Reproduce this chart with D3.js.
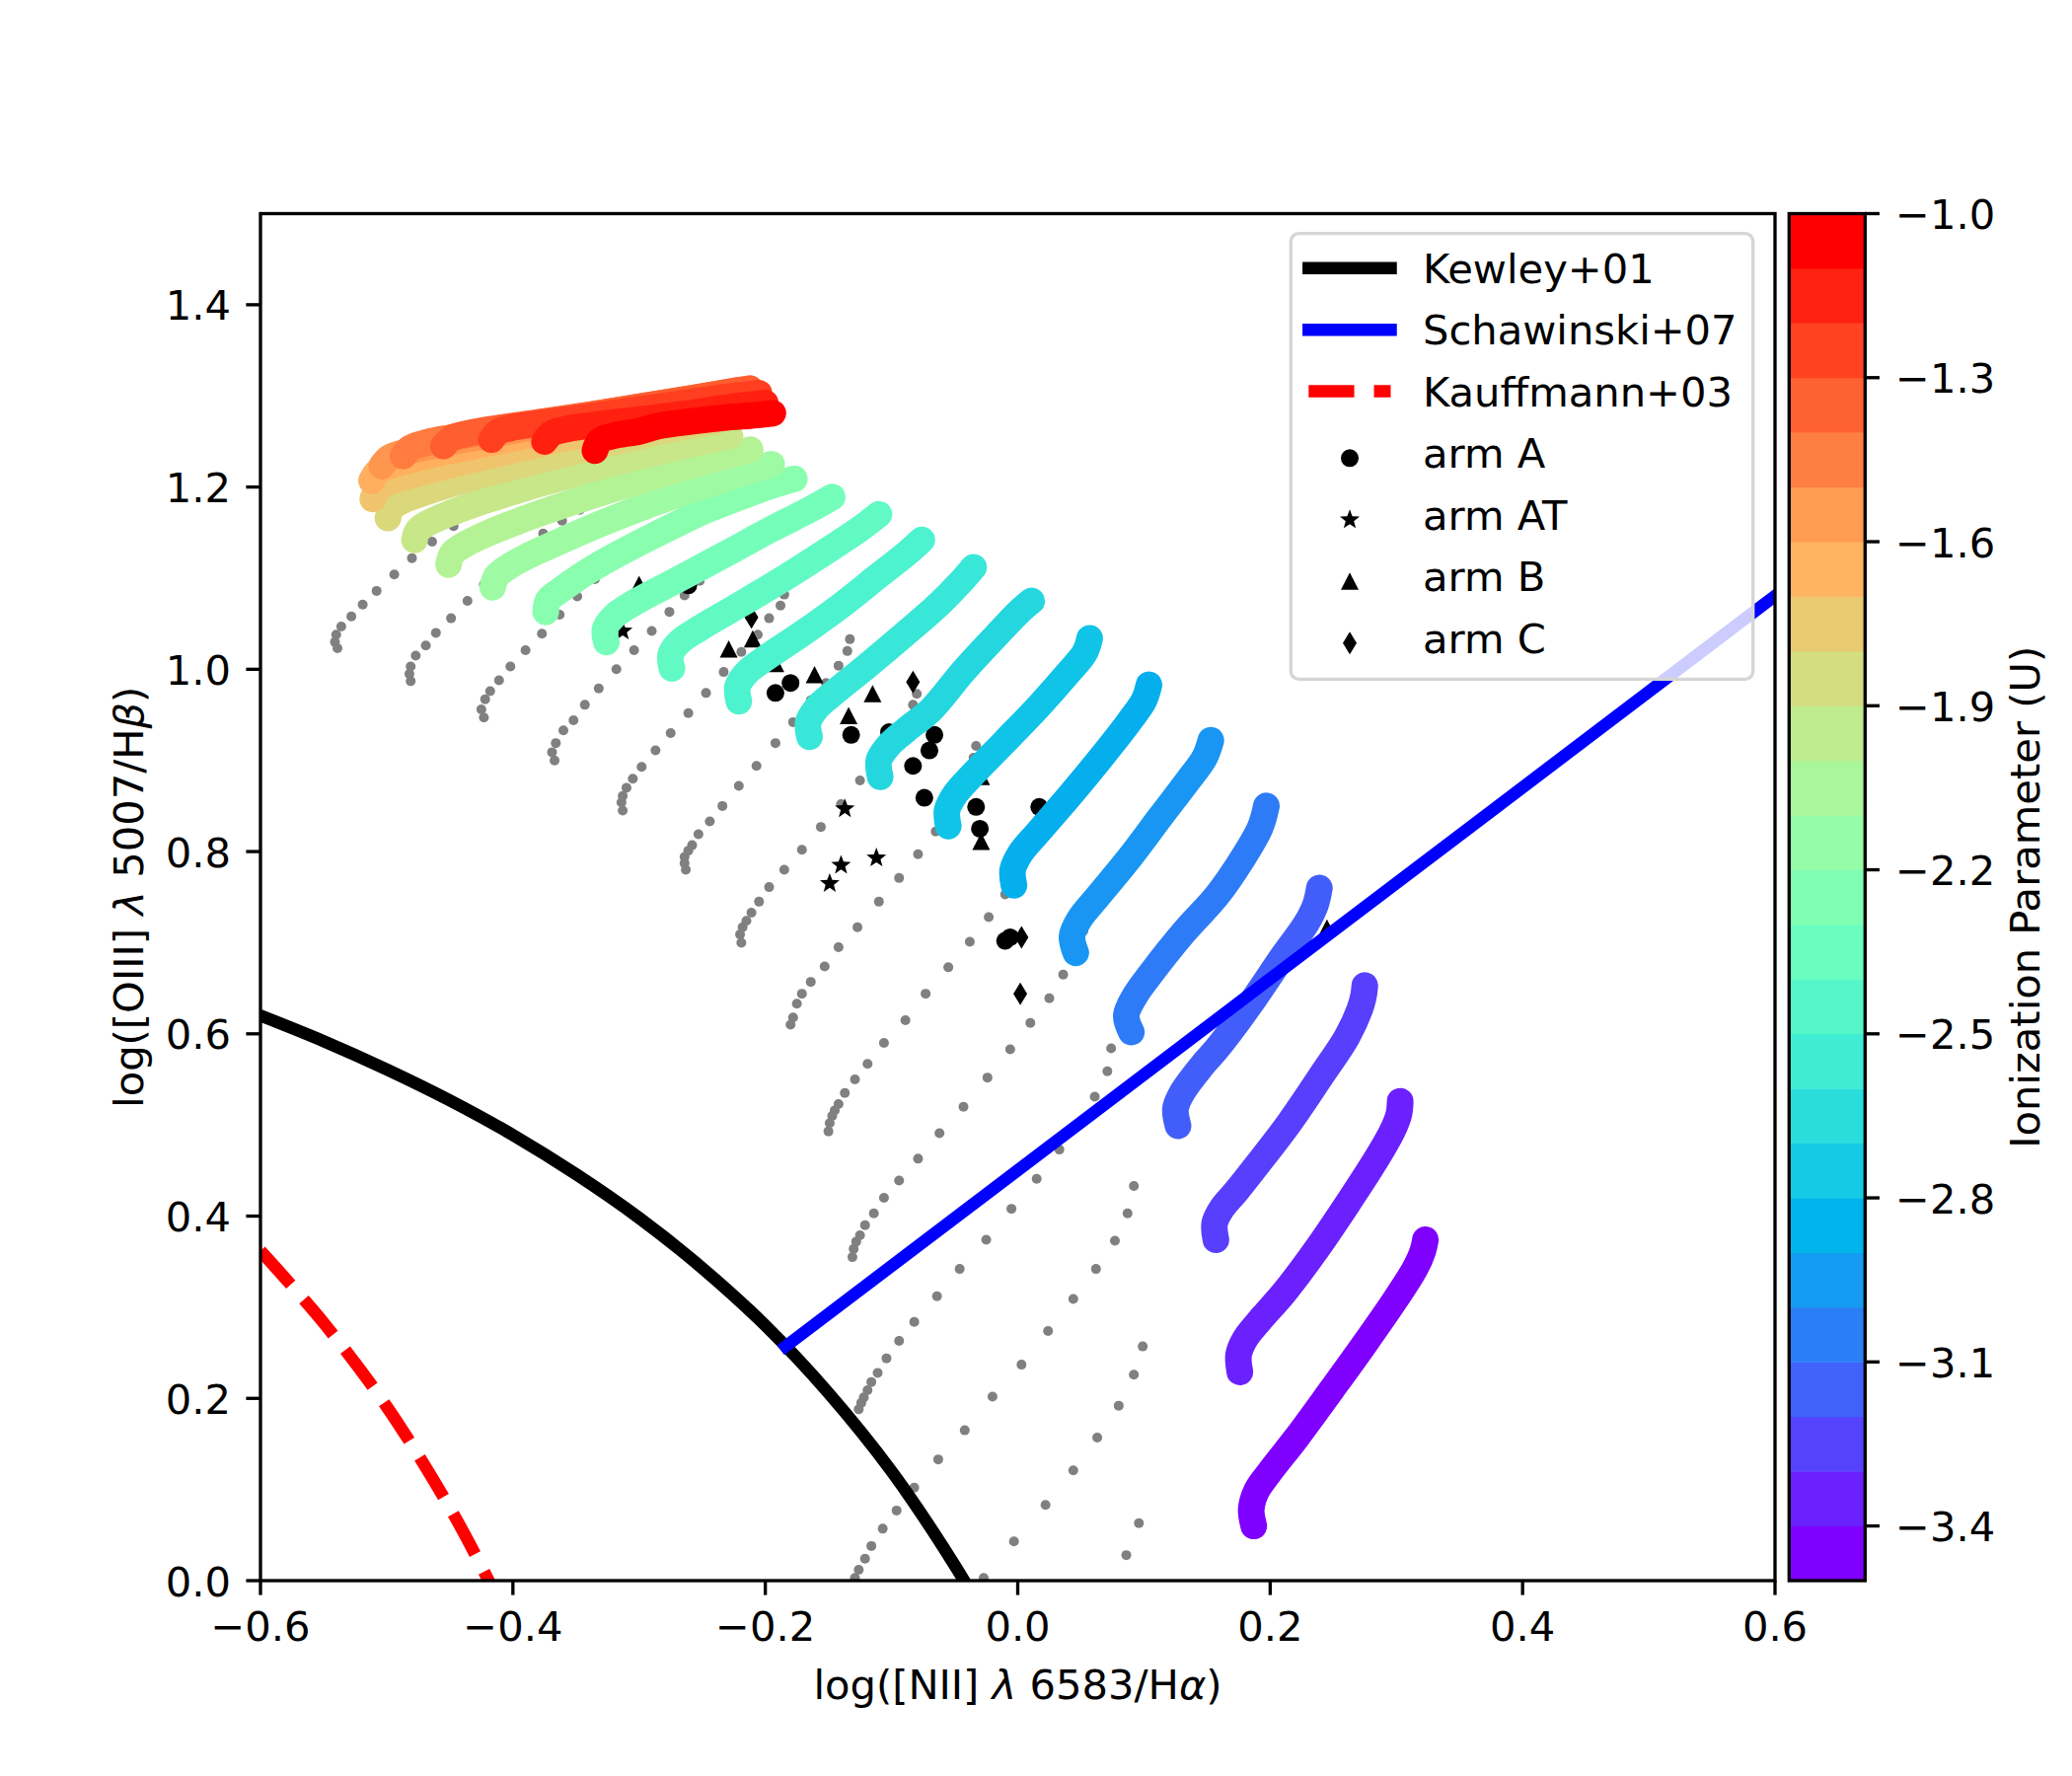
<!DOCTYPE html>
<html><head><meta charset="utf-8">
<script src="https://cdn.jsdelivr.net/npm/d3@7"></script>
<style>body{margin:0;background:#fff}svg{display:block}text{font-family:"DejaVu Sans",sans-serif;fill:#000}</style>
</head><body><svg id="c" width="2100" height="1800"></svg>
<script>
// ---------------- data ----------------
const xTicks=[-0.6,-0.4,-0.2,0.0,0.2,0.4,0.6];
const yTicks=[0.0,0.2,0.4,0.6,0.8,1.0,1.2,1.4];
const cbTicks=[-1.0,-1.3,-1.6,-1.9,-2.2,-2.5,-2.8,-3.1,-3.4];
const cbBounds=[-3.5,-3.4,-3.3,-3.2,-3.1,-3.0,-2.9,-2.8,-2.7,-2.6,-2.5,-2.4,-2.3,-2.2,-2.1,-2.0,-1.9,-1.8,-1.7,-1.6,-1.5,-1.4,-1.3,-1.2,-1.1,-1.0];
const trackU=[-3.5,-3.4,-3.3,-3.2,-3.1,-3.0,-2.9,-2.8,-2.7,-2.6,-2.5,-2.4,-2.3,-2.2,-2.1,-2.0,-1.9,-1.8,-1.7,-1.6,-1.5,-1.4,-1.3,-1.2,-1.1,-1.0];

const trackT01=[[0.187,0.060],[0.185,0.078],[0.189,0.098],[0.199,0.118],[0.221,0.157],[0.249,0.210],[0.275,0.260],[0.300,0.310],[0.315,0.343],[0.321,0.362],[0.323,0.374]];
const trackT02=[[0.176,0.229],[0.175,0.248],[0.180,0.265],[0.192,0.286],[0.211,0.316],[0.236,0.362],[0.262,0.415],[0.283,0.460],[0.297,0.494],[0.302,0.512],[0.303,0.526]];
const trackT03=[[0.157,0.374],[0.156,0.392],[0.162,0.409],[0.173,0.427],[0.189,0.455],[0.215,0.502],[0.241,0.555],[0.261,0.597],[0.271,0.627],[0.274,0.642],[0.275,0.653]];
const trackT04=[[0.127,0.499],[0.125,0.518],[0.130,0.535],[0.146,0.565],[0.158,0.584],[0.184,0.632],[0.210,0.685],[0.229,0.722],[0.236,0.742],[0.239,0.760]];
const trackT05=[[0.090,0.602],[0.086,0.620],[0.093,0.642],[0.106,0.667],[0.132,0.712],[0.158,0.752],[0.178,0.792],[0.192,0.826],[0.197,0.850]];
const trackT06=[[0.046,0.689],[0.043,0.707],[0.049,0.726],[0.063,0.750],[0.088,0.792],[0.113,0.838],[0.135,0.878],[0.148,0.903],[0.153,0.922]];
const trackT07=[[-0.003,0.763],[-0.004,0.780],[0.002,0.798],[0.016,0.821],[0.041,0.861],[0.066,0.903],[0.088,0.942],[0.100,0.966],[0.104,0.983]];
const trackT08=[[-0.055,0.828],[-0.056,0.845],[-0.050,0.862],[-0.036,0.884],[-0.010,0.921],[0.017,0.960],[0.040,0.996],[0.053,1.018],[0.057,1.034]];
const trackT09=[[-0.109,0.882],[-0.110,0.900],[-0.102,0.917],[-0.088,0.934],[-0.069,0.955],[-0.043,0.998],[-0.017,1.037],[0.001,1.063],[0.011,1.075]];
const trackT10=[[-0.165,0.926],[-0.166,0.942],[-0.159,0.958],[-0.145,0.975],[-0.120,1.003],[-0.090,1.038],[-0.062,1.072],[-0.045,1.096],[-0.035,1.112]];
const trackT11=[[-0.221,0.965],[-0.222,0.981],[-0.215,0.996],[-0.200,1.012],[-0.170,1.040],[-0.140,1.070],[-0.110,1.103],[-0.088,1.127],[-0.076,1.142]];
const trackT12=[[-0.274,1.001],[-0.275,1.016],[-0.268,1.030],[-0.252,1.045],[-0.220,1.071],[-0.185,1.100],[-0.150,1.131],[-0.125,1.154],[-0.110,1.170]];
const trackT13=[[-0.326,1.030],[-0.327,1.044],[-0.320,1.058],[-0.304,1.073],[-0.270,1.098],[-0.232,1.126],[-0.195,1.154],[-0.165,1.175],[-0.147,1.189]];
const trackT14=[[-0.374,1.063],[-0.372,1.076],[-0.361,1.088],[-0.350,1.099],[-0.324,1.121],[-0.298,1.140],[-0.272,1.158],[-0.246,1.175],[-0.220,1.189],[-0.194,1.202],[-0.177,1.209]];
const trackT15=[[-0.416,1.090],[-0.413,1.102],[-0.403,1.113],[-0.390,1.123],[-0.360,1.142],[-0.330,1.160],[-0.295,1.179],[-0.260,1.196],[-0.225,1.212],[-0.195,1.225]];
const trackT16=[[-0.451,1.115],[-0.448,1.127],[-0.438,1.137],[-0.425,1.146],[-0.395,1.163],[-0.360,1.180],[-0.320,1.198],[-0.280,1.215],[-0.245,1.229],[-0.212,1.241]];
const trackT17=[[-0.478,1.142],[-0.475,1.153],[-0.465,1.162],[-0.450,1.171],[-0.420,1.186],[-0.385,1.201],[-0.345,1.217],[-0.305,1.232],[-0.265,1.245],[-0.228,1.256]];
const trackT18=[[-0.499,1.166],[-0.496,1.177],[-0.486,1.186],[-0.470,1.194],[-0.440,1.207],[-0.400,1.222],[-0.360,1.236],[-0.320,1.249],[-0.280,1.262],[-0.240,1.272]];
const trackT19=[[-0.511,1.187],[-0.507,1.198],[-0.497,1.206],[-0.480,1.213],[-0.450,1.224],[-0.410,1.237],[-0.370,1.250],[-0.330,1.262],[-0.290,1.274],[-0.245,1.285]];
const trackT20=[[-0.512,1.207],[-0.507,1.217],[-0.496,1.224],[-0.478,1.231],[-0.445,1.241],[-0.405,1.252],[-0.365,1.263],[-0.325,1.274],[-0.285,1.285],[-0.240,1.295]];
const trackT21=[[-0.504,1.223],[-0.498,1.232],[-0.486,1.238],[-0.468,1.244],[-0.435,1.253],[-0.395,1.263],[-0.355,1.273],[-0.315,1.283],[-0.275,1.293],[-0.232,1.302]];
const trackT22=[[-0.487,1.234],[-0.481,1.243],[-0.468,1.249],[-0.450,1.254],[-0.415,1.262],[-0.375,1.271],[-0.335,1.280],[-0.295,1.289],[-0.255,1.298],[-0.222,1.306]];
const trackT23=[[-0.455,1.245],[-0.448,1.254],[-0.435,1.259],[-0.415,1.264],[-0.380,1.271],[-0.340,1.279],[-0.300,1.288],[-0.260,1.297],[-0.230,1.304],[-0.212,1.308]];
const trackT24=[[-0.417,1.252],[-0.411,1.261],[-0.398,1.266],[-0.378,1.270],[-0.345,1.276],[-0.310,1.283],[-0.270,1.291],[-0.235,1.298],[-0.205,1.303]];
const trackT25=[[-0.375,1.250],[-0.369,1.259],[-0.356,1.264],[-0.336,1.268],[-0.300,1.274],[-0.265,1.280],[-0.230,1.287],[-0.200,1.292]];
const trackT26=[[-0.335,1.240],[-0.331,1.251],[-0.318,1.257],[-0.300,1.261],[-0.285,1.267],[-0.259,1.272],[-0.233,1.276],[-0.207,1.279],[-0.194,1.281]];

const greyG01=[[-0.539,1.023],[-0.541,1.030],[-0.540,1.038],[-0.536,1.047],[-0.528,1.058],[-0.519,1.071],[-0.508,1.086],[-0.494,1.104],[-0.480,1.122],[-0.464,1.140],[-0.447,1.157],[-0.429,1.173],[-0.411,1.189],[-0.394,1.204],[-0.380,1.217]];
const greyG02=[[-0.481,0.987],[-0.482,0.995],[-0.481,1.003],[-0.477,1.015],[-0.469,1.026],[-0.461,1.040],[-0.449,1.056],[-0.436,1.075],[-0.423,1.093],[-0.408,1.112],[-0.392,1.131],[-0.376,1.149],[-0.361,1.163],[-0.347,1.175],[-0.336,1.185]];
const greyG03=[[-0.423,0.947],[-0.425,0.956],[-0.422,0.967],[-0.418,0.976],[-0.411,0.988],[-0.402,1.003],[-0.390,1.021],[-0.377,1.039],[-0.363,1.060],[-0.349,1.080],[-0.335,1.099],[-0.320,1.117],[-0.306,1.133],[-0.294,1.147]];
const greyG04=[[-0.367,0.900],[-0.369,0.909],[-0.366,0.919],[-0.360,0.933],[-0.352,0.944],[-0.343,0.961],[-0.332,0.979],[-0.318,1.000],[-0.304,1.021],[-0.290,1.042],[-0.276,1.063],[-0.264,1.081],[-0.252,1.097],[-0.242,1.112],[-0.237,1.122],[-0.234,1.133]];
const greyG05=[[-0.313,0.845],[-0.314,0.854],[-0.313,0.861],[-0.310,0.870],[-0.305,0.880],[-0.298,0.893],[-0.287,0.911],[-0.275,0.930],[-0.261,0.952],[-0.247,0.974],[-0.233,0.997],[-0.219,1.019],[-0.206,1.038],[-0.197,1.056],[-0.188,1.070],[-0.185,1.082]];
const greyG06=[[-0.263,0.780],[-0.264,0.787],[-0.264,0.794],[-0.261,0.801],[-0.258,0.807],[-0.253,0.819],[-0.244,0.833],[-0.234,0.850],[-0.221,0.872],[-0.207,0.894],[-0.192,0.919],[-0.178,0.942],[-0.164,0.966],[-0.152,0.985],[-0.142,1.004],[-0.135,1.020],[-0.133,1.033]];
const greyG07=[[-0.219,0.700],[-0.220,0.709],[-0.218,0.717],[-0.215,0.724],[-0.211,0.733],[-0.205,0.745],[-0.197,0.761],[-0.185,0.780],[-0.171,0.802],[-0.156,0.827],[-0.140,0.852],[-0.125,0.878],[-0.110,0.905],[-0.095,0.932],[-0.083,0.961],[-0.080,0.973]];
const greyG08=[[-0.180,0.610],[-0.178,0.618],[-0.175,0.633],[-0.171,0.644],[-0.164,0.657],[-0.153,0.674],[-0.142,0.695],[-0.127,0.717],[-0.110,0.745],[-0.094,0.771],[-0.079,0.797],[-0.065,0.822],[-0.052,0.845],[-0.042,0.870],[-0.038,0.887],[-0.035,0.903],[-0.033,0.916]];
const greyG09=[[-0.150,0.493],[-0.149,0.502],[-0.147,0.510],[-0.145,0.516],[-0.142,0.523],[-0.137,0.535],[-0.129,0.550],[-0.119,0.567],[-0.106,0.590],[-0.089,0.615],[-0.073,0.644],[-0.055,0.673],[-0.038,0.701],[-0.023,0.728],[-0.010,0.753],[0.000,0.776],[0.009,0.800],[0.015,0.822],[0.018,0.842]];
const greyG10=[[-0.131,0.355],[-0.130,0.364],[-0.128,0.372],[-0.125,0.379],[-0.121,0.390],[-0.114,0.403],[-0.106,0.420],[-0.094,0.439],[-0.079,0.463],[-0.062,0.491],[-0.043,0.520],[-0.024,0.552],[-0.006,0.583],[0.010,0.612],[0.025,0.639],[0.036,0.665],[0.045,0.690],[0.052,0.713],[0.055,0.733]];
const greyG11=[[-0.126,0.188],[-0.124,0.195],[-0.122,0.201],[-0.119,0.209],[-0.116,0.218],[-0.111,0.228],[-0.104,0.244],[-0.094,0.263],[-0.082,0.284],[-0.064,0.312],[-0.046,0.342],[-0.025,0.374],[-0.005,0.408],[0.015,0.441],[0.033,0.473],[0.050,0.502],[0.061,0.531],[0.071,0.559],[0.074,0.584]];
const greyG12=[[-0.129,0.003],[-0.126,0.012],[-0.121,0.024],[-0.116,0.038],[-0.107,0.057],[-0.096,0.077],[-0.082,0.102],[-0.063,0.133],[-0.042,0.165],[-0.020,0.202],[0.003,0.237],[0.024,0.274],[0.044,0.309],[0.062,0.342],[0.077,0.373],[0.087,0.403],[0.092,0.433]];
const greyG13=[[-0.027,0.003],[-0.003,0.043],[0.022,0.083],[0.044,0.121],[0.063,0.157],[0.080,0.192],[0.092,0.226],[0.099,0.257]];
const greyG14=[[0.086,0.028],[0.096,0.063]];

const armA=[[-0.261,1.092],[-0.180,0.985],[-0.192,0.974],[-0.132,0.928],[-0.102,0.931],[-0.066,0.928],[-0.070,0.911],[-0.083,0.894],[-0.074,0.859],[-0.033,0.849],[-0.030,0.825],[0.017,0.849],[-0.010,0.702],[-0.006,0.706],[-0.066,0.960],[-0.092,1.039]];
const armAT=[[-0.313,1.042],[-0.137,0.847],[-0.140,0.785],[-0.149,0.765],[-0.112,0.793],[-0.057,0.969],[-0.130,0.989]];
const armB=[[-0.300,1.093],[-0.229,1.022],[-0.210,1.033],[-0.192,1.006],[-0.161,0.994],[-0.115,0.973],[-0.134,0.949],[-0.029,0.811],[-0.178,1.032],[-0.029,0.882],[0.245,0.716]];
const armC=[[-0.211,1.057],[-0.083,0.986],[0.003,0.706],[0.002,0.644]];

const kewleyX=[-0.6,-0.55,-0.5,-0.45,-0.4,-0.35,-0.3,-0.25,-0.2,-0.15,-0.1,-0.05,-0.03];
const kewleyY=[0.620,0.592,0.561,0.527,0.489,0.446,0.398,0.343,0.280,0.206,0.120,0.017,-0.030];
const kauffX=[-0.6,-0.55,-0.5,-0.45,-0.42,-0.40];
const kauffY=[0.362,0.283,0.191,0.080,0.002,-0.056];
const schawX=[-0.184,0.65];
const schawY=[0.257,1.133];

const legendLabels=["Kewley+01","Schawinski+07","Kauffmann+03","arm A","arm AT","arm B","arm C"];

// ---------------- drawing ----------------
const colorTracks=[trackT01,trackT02,trackT03,trackT04,trackT05,trackT06,trackT07,trackT08,trackT09,trackT10,trackT11,trackT12,trackT13,trackT14,trackT15,trackT16,trackT17,trackT18,trackT19,trackT20,trackT21,trackT22,trackT23,trackT24,trackT25,trackT26];
const greyTracks=[greyG01,greyG02,greyG03,greyG04,greyG05,greyG06,greyG07,greyG08,greyG09,greyG10,greyG11,greyG12,greyG13,greyG14];

const svg=d3.select('#c');
const X0=264,X1=1799,Y0=1602,Y1=216.5;
const x=d3.scaleLinear().domain([-0.6,0.6]).range([X0,X1]);
const y=d3.scaleLinear().domain([0,1.5]).range([Y0,Y1]);
const cbL=1813.3,cbR=1890.3;
const cy=d3.scaleLinear().domain([-3.5,-1.0]).range([Y0,Y1]);
const norm=d3.scaleLinear().domain([-3.5,-1.0]).range([0,1]).clamp(true);
const FS=41.67, LW=3.33, TL=14.6;
function rainbow(t){
  const c=v=>Math.max(0,Math.min(1,v));
  return d3.rgb(255*c(Math.abs(2*t-0.5)),255*c(Math.sin(Math.PI*t)),255*c(Math.cos(Math.PI*t/2))).formatHex();
}
const fmt=d3.format(".1f");

svg.append('defs').append('clipPath').attr('id','clip').append('rect')
  .attr('x',X0).attr('y',Y1).attr('width',X1-X0).attr('height',Y0-Y1);
const plot=svg.append('g').attr('clip-path','url(#clip)');

// grey model dots
plot.append('g').selectAll('g').data(greyTracks).join('g')
  .selectAll('circle').data(d=>d).join('circle')
  .attr('cx',d=>x(d[0])).attr('cy',d=>y(d[1])).attr('r',5).attr('fill','#808080');

// markers
const circlePath=d3.symbol(d3.symbolCircle,Math.PI*9*9)();
function starPath(R){const p=[];for(let i=0;i<10;i++){const r=i%2?R*0.42:R;const a=-Math.PI/2+i*Math.PI/5;p.push([r*Math.cos(a),r*Math.sin(a)]);}return 'M'+p.map(q=>q[0].toFixed(2)+','+q[1].toFixed(2)).join('L')+'Z';}
const shapes={A:circlePath,AT:starPath(10.5),B:'M0,-9L9,8.5L-9,8.5Z',C:'M0,-11.5L7,0L0,11.5L-7,0Z'};
const groups=[[armA,'A'],[armAT,'AT'],[armB,'B'],[armC,'C']];
groups.forEach(([arr,k])=>{
  plot.append('g').selectAll('path').data(arr).join('path')
    .attr('d',shapes[k]).attr('transform',d=>`translate(${x(d[0])},${y(d[1])})`).attr('fill','#000');
});

// coloured tracks
const tl=d3.line().x(d=>x(d[0])).y(d=>y(d[1])).curve(d3.curveCatmullRom.alpha(0.5));
plot.append('g').selectAll('path').data(colorTracks).join('path')
  .attr('d',tl).attr('fill','none').attr('stroke',(d,i)=>rainbow(norm(trackU[i])))
  .attr('stroke-width',27).attr('stroke-linecap','round').attr('stroke-linejoin','round');

// demarcation lines
const ll=d3.line().x(d=>x(d[0])).y(d=>y(d[1])).curve(d3.curveCatmullRom.alpha(0.5));
plot.append('path').attr('d',ll(kauffX.map((v,i)=>[v,kauffY[i]]))).attr('fill','none').attr('stroke','#ff0000').attr('stroke-width',12.5).attr('stroke-dasharray','46.25,20').attr('stroke-linecap','butt');
plot.append('path').attr('d',ll(kewleyX.map((v,i)=>[v,kewleyY[i]]))).attr('fill','none').attr('stroke','#000').attr('stroke-width',12.5).attr('stroke-linecap','square');
plot.append('path').attr('d',d3.line().x(d=>x(d[0])).y(d=>y(d[1]))(schawX.map((v,i)=>[v,schawY[i]]))).attr('fill','none').attr('stroke','#0000ff').attr('stroke-width',12.5).attr('stroke-linecap','square');

// axes frame + ticks
svg.append('rect').attr('x',X0).attr('y',Y1).attr('width',X1-X0).attr('height',Y0-Y1).attr('fill','none').attr('stroke','#000').attr('stroke-width',LW);
const ax=svg.append('g');
ax.selectAll('.xt').data(xTicks).join('line').attr('x1',d=>x(d)).attr('x2',d=>x(d)).attr('y1',Y0).attr('y2',Y0+TL).attr('stroke','#000').attr('stroke-width',LW);
ax.selectAll('.xl').data(xTicks).join('text').attr('x',d=>x(d)).attr('y',1663).attr('text-anchor','middle').attr('font-size',FS).text(d=>fmt(d));
ax.selectAll('.yt').data(yTicks).join('line').attr('x1',X0-TL).attr('x2',X0).attr('y1',d=>y(d)).attr('y2',d=>y(d)).attr('stroke','#000').attr('stroke-width',LW);
ax.selectAll('.yl').data(yTicks).join('text').attr('x',234).attr('y',d=>y(d)+15.5).attr('text-anchor','end').attr('font-size',FS).text(d=>fmt(d));

const xlab=svg.append('text').attr('x',(X0+X1)/2).attr('y',1722).attr('text-anchor','middle').attr('font-size',FS);
xlab.append('tspan').text('log([NII] ');
xlab.append('tspan').attr('font-style','italic').text('λ');
xlab.append('tspan').text(' 6583/H');
xlab.append('tspan').attr('font-style','italic').text('α');
xlab.append('tspan').text(')');
const ylab=svg.append('text').attr('transform',`translate(145,${(Y0+Y1)/2}) rotate(-90)`).attr('text-anchor','middle').attr('font-size',FS);
ylab.append('tspan').text('log([OIII] ');
ylab.append('tspan').attr('font-style','italic').text('λ');
ylab.append('tspan').text(' 5007/H');
ylab.append('tspan').attr('font-style','italic').text('β');
ylab.append('tspan').text(')');

// colorbar
const cb=svg.append('g');
cb.selectAll('rect').data(cbBounds.slice(0,-1)).join('rect')
  .attr('x',cbL).attr('width',cbR-cbL).attr('y',(d,i)=>cy(cbBounds[i+1])).attr('height',(d,i)=>cy(cbBounds[i])-cy(cbBounds[i+1])+0.5)
  .attr('fill',(d,i)=>rainbow(i/(cbBounds.length-2)));
cb.append('rect').attr('x',cbL).attr('y',Y1).attr('width',cbR-cbL).attr('height',Y0-Y1).attr('fill','none').attr('stroke','#000').attr('stroke-width',LW);
cb.selectAll('line').data(cbTicks).join('line').attr('x1',cbR).attr('x2',cbR+TL).attr('y1',d=>cy(d)).attr('y2',d=>cy(d)).attr('stroke','#000').attr('stroke-width',LW);
cb.selectAll('text.t').data(cbTicks).join('text').attr('class','t').attr('x',1921).attr('y',d=>cy(d)+15.5).attr('font-size',FS).text(d=>fmt(d));
svg.append('text').attr('transform',`translate(2067,${(Y0+Y1)/2}) rotate(-90)`).attr('text-anchor','middle').attr('font-size',FS).text('Ionization Parameter (U)');

// legend
const lg=svg.append('g');
lg.append('rect').attr('x',1308.3).attr('y',236.7).attr('width',468.4).attr('height',451.6).attr('rx',8).attr('ry',8)
  .attr('fill','#fff').attr('fill-opacity',0.8).attr('stroke','#d5d5d5').attr('stroke-width',LW);
const hx0=1326.3,hx1=1409.5,hxm=1368;
const rowBase=legendLabels.map((d,i)=>287+62.45*i);
lg.append('line').attr('x1',hx0).attr('x2',hx1).attr('y1',rowBase[0]-15.3).attr('y2',rowBase[0]-15.3).attr('stroke','#000').attr('stroke-width',12.5).attr('stroke-linecap','square');
lg.append('line').attr('x1',hx0).attr('x2',hx1).attr('y1',rowBase[1]-15.3).attr('y2',rowBase[1]-15.3).attr('stroke','#0000ff').attr('stroke-width',12.5).attr('stroke-linecap','square');
lg.append('line').attr('x1',hx0).attr('x2',hx1).attr('y1',rowBase[2]-15.3).attr('y2',rowBase[2]-15.3).attr('stroke','#ff0000').attr('stroke-width',12.5).attr('stroke-dasharray','46.25,20').attr('stroke-linecap','butt');
['A','AT','B','C'].forEach((k,j)=>{
  lg.append('path').attr('d',shapes[k]).attr('transform',`translate(${hxm},${rowBase[3+j]-10})`).attr('fill','#000');
});
lg.selectAll('text').data(legendLabels).join('text').attr('x',1442).attr('y',(d,i)=>rowBase[i]).attr('font-size',FS).text(d=>d);
</script></body></html>
